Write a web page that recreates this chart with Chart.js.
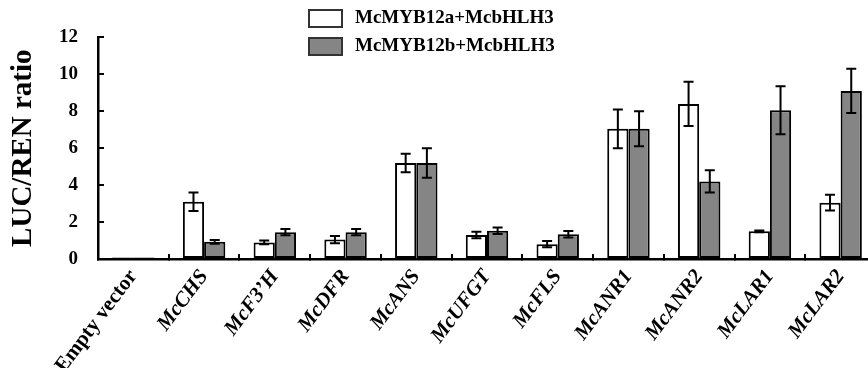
<!DOCTYPE html>
<html>
<head>
<meta charset="utf-8">
<script src="https://cdn.jsdelivr.net/npm/chart.js@4"></script>
<style>
  html, body { margin: 0; padding: 0; background: #fff; overflow: hidden; width: 868px; height: 368px; }
  #wrap { position: relative; width: 880px; height: 368px; }
  .leg { position: absolute; left: 308px; font: bold 19px "Liberation Serif", serif; color: #000; }
  .leg span.box { position: absolute; left: 0; width: 31px; height: 15px; border: 2px solid #333; }
  .leg span.txt { position: absolute; left: 47px; top: -3px; white-space: nowrap; }
</style>
</head>
<body>
<div id="wrap">
  <canvas id="chart" width="880" height="368"></canvas>
  <div class="leg" style="top:9px"><span class="box" style="background:#fff"></span><span class="txt">McMYB12a+McbHLH3</span></div>
  <div class="leg" style="top:37px"><span class="box" style="background:#858585"></span><span class="txt">McMYB12b+McbHLH3</span></div>
</div>
<script>
// LUC/REN ratio per promoter
const genes = ['Empty vector', 'McCHS', 'McF3\u2019H', 'McDFR', 'McANS', 'McUFGT', 'McFLS', 'McANR1', 'McANR2', 'McLAR1', 'McLAR2'];
const myb12a = [0.08, 3.1, 0.9, 1.05, 5.2, 1.3, 0.8, 7.05, 8.4, 1.5, 3.05];
const myb12aErr = [0, 0.5, 0.1, 0.2, 0.5, 0.17, 0.17, 1.05, 1.2, 0.05, 0.43];
const myb12b = [0.08, 0.93, 1.45, 1.45, 5.2, 1.53, 1.34, 7.05, 4.2, 8.05, 9.1];
const myb12bErr = [0, 0.1, 0.17, 0.17, 0.8, 0.17, 0.18, 0.95, 0.6, 1.3, 1.2];
const errs = [myb12aErr, myb12bErr];

const serif = '"Liberation Serif", "Times New Roman", serif';

// draws the +/- error whiskers on top of the bars
const errorBars = {
  id: 'errorBars',
  afterDatasetsDraw(chart) {
    const ctx = chart.ctx;
    const y = chart.scales.y;
    ctx.save();
    ctx.strokeStyle = '#000';
    ctx.lineWidth = 2;
    chart.data.datasets.forEach((ds, i) => {
      chart.getDatasetMeta(i).data.forEach((bar, j) => {
        const e = errs[i][j];
        if (!e) return;
        const top = y.getPixelForValue(ds.data[j] + e);
        const bot = y.getPixelForValue(ds.data[j] - e);
        const x = bar.x, w = 5;
        ctx.beginPath();
        ctx.moveTo(x, top); ctx.lineTo(x, bot);
        ctx.moveTo(x - w, top); ctx.lineTo(x + w, top);
        ctx.moveTo(x - w, bot); ctx.lineTo(x + w, bot);
        ctx.stroke();
      });
    });
    ctx.restore();
  }
};

new Chart(document.getElementById('chart'), {
  type: 'bar',
  data: {
    labels: genes,
    datasets: [
      { label: 'McMYB12a+McbHLH3', data: myb12a, backgroundColor: '#ffffff', borderColor: '#000', borderWidth: 2, borderSkipped: false },
      { label: 'McMYB12b+McbHLH3', data: myb12b, backgroundColor: '#858585', borderColor: '#000', borderWidth: 2, borderSkipped: false }
    ]
  },
  options: {
    responsive: false,
    animation: false,
    categoryPercentage: 0.6,
    barPercentage: 1.0,
    layout: { padding: { left: 2, top: 24, right: 4, bottom: 0 } },
    plugins: { legend: { display: false }, tooltip: { enabled: false } },
    scales: {
      x: {
        afterFit: s => { s.height = 109; },
        border: { color: '#000', width: 2.5 },
        grid: { offset: true, drawOnChartArea: false, tickLength: -5, color: '#000', lineWidth: 2 },
        ticks: {
          color: '#000',
          padding: 11,
          minRotation: 53,
          maxRotation: 53,
          autoSkip: false,
          font: c => ({ family: serif, size: 21, weight: 'bold', style: c.index === 0 ? 'normal' : 'italic' })
        }
      },
      y: {
        min: 0,
        max: 12,
        afterFit: s => { s.width = 96; },
        border: { color: '#000', width: 2.5 },
        grid: { drawOnChartArea: false, tickLength: -6, color: '#000', lineWidth: 2 },
        ticks: { stepSize: 2, color: '#000', padding: 26, font: { family: serif, size: 19, weight: 'bold' } },
        title: { display: true, text: 'LUC/REN ratio', color: '#000', padding: { top: 4, bottom: 0 }, font: { family: serif, size: 29, weight: 'bold' } }
      }
    }
  },
  plugins: [errorBars]
});
</script>
</body>
</html>
